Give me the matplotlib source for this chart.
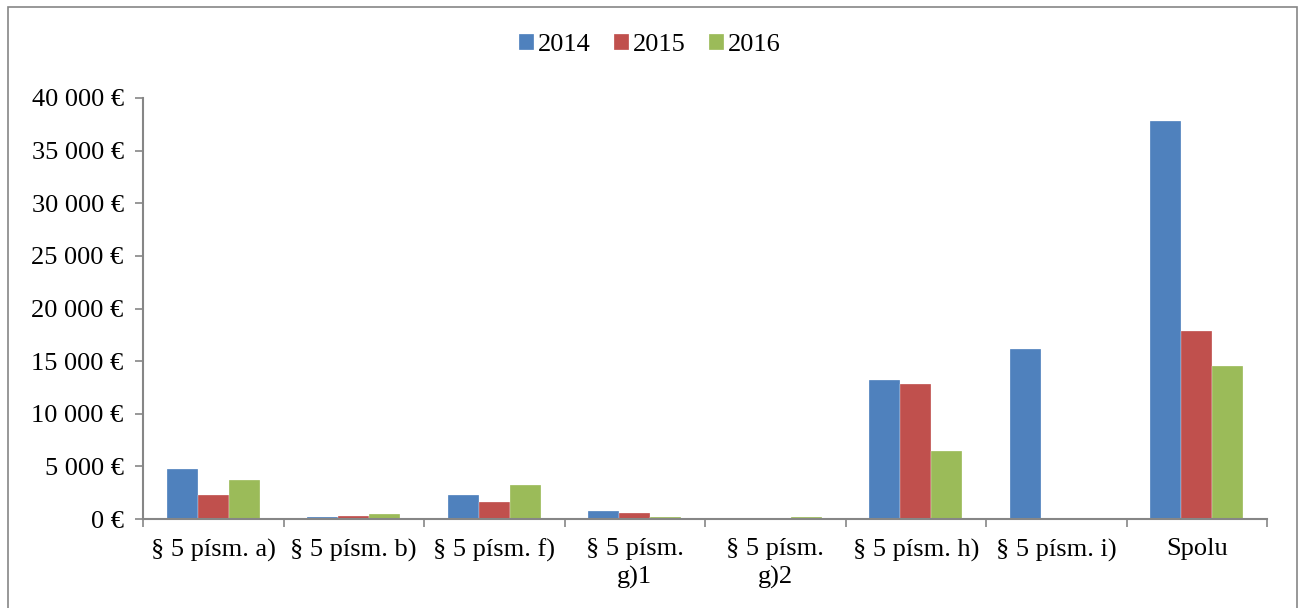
import matplotlib.pyplot as plt
import numpy as np

plt.rcParams['font.family'] = ['Liberation Serif', 'DejaVu Serif']

# Data
kategorie = ['§ 5 písm. a)', '§ 5 písm. b)', '§ 5 písm. f)', '§ 5 písm.\ng)1',
             '§ 5 písm.\ng)2', '§ 5 písm. h)', '§ 5 písm. i)', 'Spolu']
roky = ['2014', '2015', '2016']
hodnoty_2014 = [4720, 220, 2310, 790, 130, 13240, 16150, 37850]
hodnoty_2015 = [2280, 320, 1620, 600, 70, 12830, 0, 17890]
hodnoty_2016 = [3700, 440, 3200, 220, 190, 6490, 0, 14540]
farby = ['#4F81BD', '#C0504D', '#9BBB59']

fig = plt.figure(figsize=(13, 6.08), dpi=100)
ax = fig.add_axes([143/1300, 1 - 519/608, (1267-143)/1300, (519-98)/608])

x = np.arange(len(kategorie))
w = 0.22
for i, (rok, vals) in enumerate(zip(roky, [hodnoty_2014, hodnoty_2015, hodnoty_2016])):
    ax.bar(x + (i - 1) * w, vals, width=w, color=farby[i], label=rok,
           edgecolor='white', linewidth=0.2)

ax.set_xlim(-0.5, len(kategorie) - 0.5)
ax.set_ylim(0, 40000)
ax.set_yticks(np.arange(0, 40001, 5000))
ax.set_yticklabels([f'{v:,} €'.replace(',', ' ') for v in range(0, 40001, 5000)], fontsize=19)

ax.set_xticks(np.arange(-0.5, len(kategorie) - 0.4, 1))
ax.set_xticklabels([])
ax.set_xticks(x, minor=True)
ax.set_xticklabels(kategorie, minor=True, fontsize=19, va='top', linespacing=1.3)
ax.tick_params(axis='x', which='minor', length=0, pad=14)
ax.tick_params(axis='x', which='major', length=6, color='#868686', width=1.2)
ax.tick_params(axis='y', length=6, color='#868686', width=1.2, pad=8)

for s in ['top', 'right']:
    ax.spines[s].set_visible(False)
for s in ['left', 'bottom']:
    ax.spines[s].set_color('#868686')
    ax.spines[s].set_linewidth(1.5)

fig.legend(loc='center', bbox_to_anchor=(0.5, 1 - 45/608), ncol=3, frameon=False,
           fontsize=19, handlelength=0.55, handleheight=0.55, handletextpad=0.15,
           columnspacing=0.9)

# okraj grafu
fig.add_artist(plt.Rectangle((8/1300, -0.01), 1289/1300, 1 - 7/608 + 0.01, fill=False,
                             edgecolor='#868686', linewidth=1.2, transform=fig.transFigure))

fig.savefig('out.png', dpi=100)
